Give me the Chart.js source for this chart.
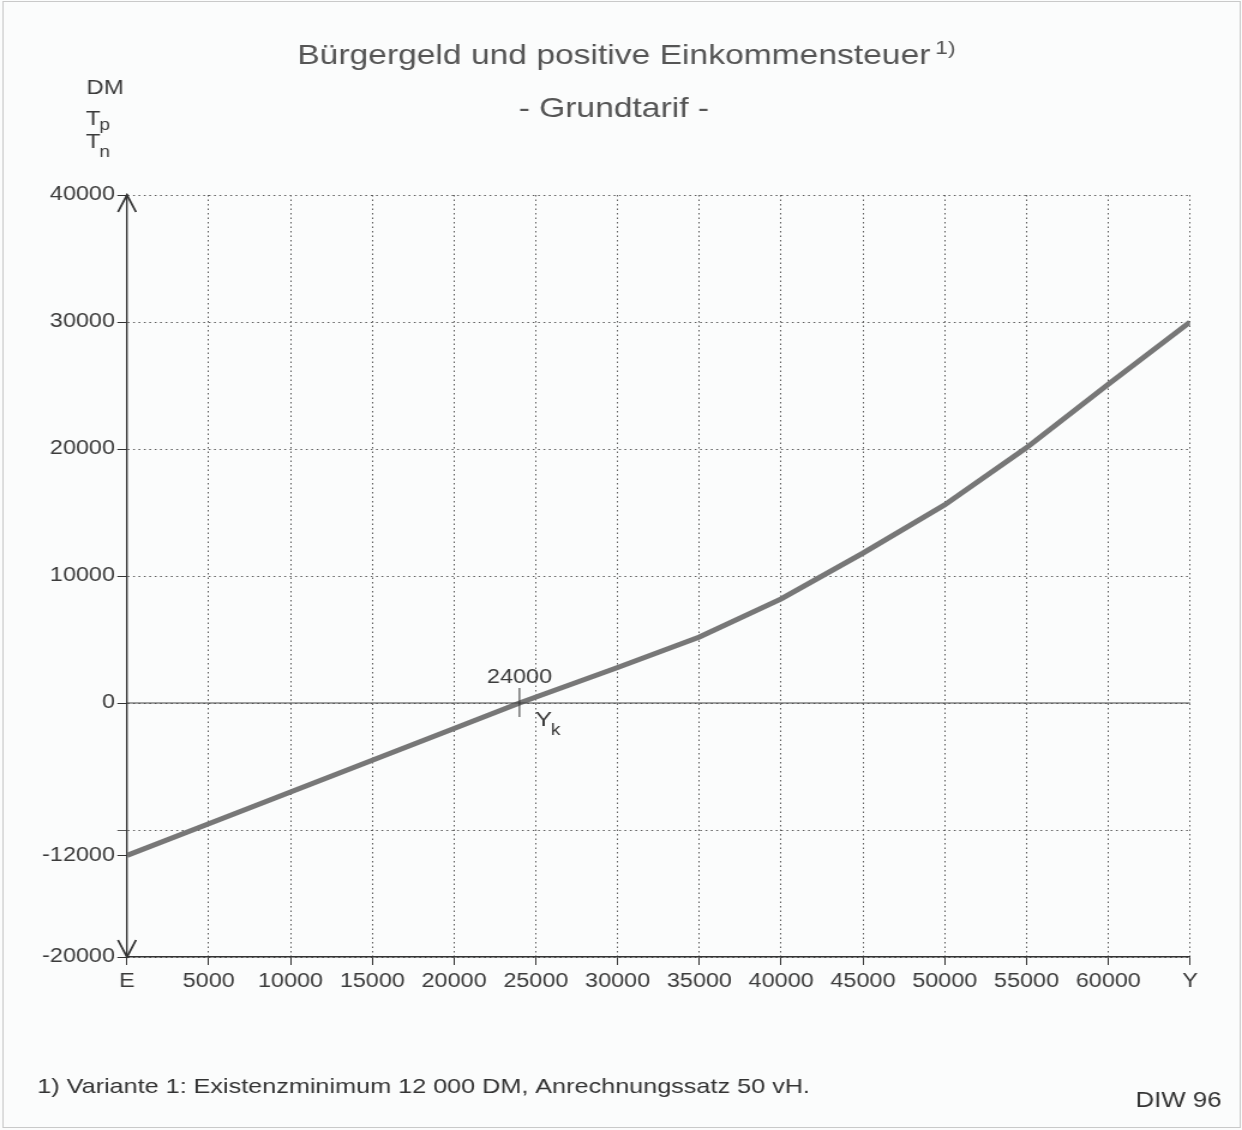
<!DOCTYPE html>
<html>
<head>
<meta charset="utf-8">
<title>Bürgergeld und positive Einkommensteuer</title>
<script src="https://cdn.jsdelivr.net/npm/chart.js"></script>
<style>
    html, body { margin: 0; padding: 0; background: #fbfcfc; overflow: hidden; }
    /* the printed figure is a bit stretched sideways, so draw narrower and widen */
    .wrap { width: 1035px; height: 1130px; transform: scaleX(1.2); transform-origin: 0 0; }
</style>
</head>
<body>
<div class="wrap"><canvas id="chart"></canvas></div>
<script>
    // income Y (DM) and tax T (positive Tp / negative Tn), Grundtarif
    const income = [0, 5000, 10000, 15000, 20000, 24000, 30000, 35000, 40000, 45000, 50000, 55000, 60000, 65000];
    const tax = [-12000, -9500, -7000, -4500, -2000, 0, 2800, 5200, 8200, 11800, 15600, 20100, 25100, 30000];

    const yTicks = [-20000, -12000, -10000, 0, 10000, 20000, 30000, 40000];
    const yHidden = [-10000];           // gridline only, no label
    const xMin = 0, xMax = 65000, xStep = 5000;
    const xEndLabels = { 0: 'E', 65000: 'Y' };
    const breakEven = 24000;            // Y_k

    const FONT = '"Liberation Sans", Arial, sans-serif';
    const INK = '#3b3b3b';
    const GRID = '#5a5a5a';

    const figureText = {
        id: 'figureText',
        afterDraw(chart) {
            const ctx = chart.ctx;
            const xs = chart.scales.x, ys = chart.scales.y;
            ctx.save();

            // solid zero line
            const y0 = ys.getPixelForValue(0);
            ctx.strokeStyle = '#444';
            ctx.lineWidth = 1.2;
            ctx.beginPath();
            ctx.moveTo(xs.left, y0);
            ctx.lineTo(xs.right, y0);
            ctx.stroke();

            // arrows on the vertical axis
            const ax = xs.getPixelForValue(xMin);
            const yt = ys.getPixelForValue(40000), yb = ys.getPixelForValue(-20000);
            ctx.strokeStyle = '#333';
            ctx.lineWidth = 1.8;
            ctx.beginPath();
            ctx.moveTo(ax - 7.5, yt + 17); ctx.lineTo(ax, yt); ctx.lineTo(ax + 7.5, yt + 17);
            ctx.moveTo(ax - 7.5, yb - 17); ctx.lineTo(ax, yb); ctx.lineTo(ax + 7.5, yb - 17);
            ctx.stroke();

            // Y_k marker
            const xk = xs.getPixelForValue(breakEven);
            ctx.lineWidth = 1;
            ctx.beginPath();
            ctx.moveTo(xk, y0 - 15); ctx.lineTo(xk, y0 + 14);
            ctx.stroke();
            ctx.fillStyle = INK;
            ctx.textBaseline = 'alphabetic';
            ctx.textAlign = 'center';
            ctx.font = '19.5px ' + FONT;
            ctx.fillText(String(breakEven), xk, y0 - 20);
            ctx.textAlign = 'left';
            ctx.font = '21px ' + FONT;
            ctx.fillText('Y', xk + 13, y0 + 23);
            const wY = ctx.measureText('Y').width;
            ctx.font = '16px ' + FONT;
            ctx.fillText('k', xk + 13 + wY - 1, y0 + 32);

            // axis unit labels
            ctx.fillStyle = INK;
            ctx.font = '20px ' + FONT;
            ctx.fillText('DM', 72, 94);
            ctx.fillText('T', 71.5, 125);
            ctx.fillText('T', 71.5, 148);
            const wT = ctx.measureText('T').width;
            ctx.font = '16px ' + FONT;
            ctx.fillText('p', 71.5 + wT - 1, 130);
            ctx.fillText('n', 71.5 + wT - 1, 157);

            // title
            ctx.fillStyle = '#555';
            ctx.font = '28px ' + FONT;
            ctx.textAlign = 'center';
            const title = 'Bürgergeld und positive Einkommensteuer';
            const cx = 511.5;
            ctx.fillText(title, cx, 64);
            const wTitle = ctx.measureText(title).width;
            ctx.fillText('- Grundtarif -', cx, 117);
            ctx.textAlign = 'left';
            ctx.font = '19px ' + FONT;
            ctx.fillText('1)', cx + wTitle / 2 + 4, 54);

            // footnote and source
            ctx.fillStyle = '#333';
            ctx.font = '21px ' + FONT;
            ctx.fillText('1) Variante 1: Existenzminimum 12 000 DM, Anrechnungssatz 50 vH.', 31, 1093);
            ctx.textAlign = 'right';
            ctx.font = '21.5px ' + FONT;
            ctx.fillText('DIW 96', 1018, 1107);

            // faint frame of the scanned page
            ctx.strokeStyle = '#c9c9c9';
            ctx.lineWidth = 1;
            ctx.strokeRect(2.5, 1.5, chart.width - 4, chart.height - 4);
            ctx.restore();
        }
    };

    new Chart(document.getElementById('chart'), {
        type: 'scatter',
        data: {
            datasets: [{
                data: income.map((v, i) => ({ x: v, y: tax[i] })),
                showLine: true,
                borderColor: '#777777',
                borderWidth: 5,
                pointRadius: 0,
                tension: 0
            }]
        },
        options: {
            responsive: true,
            maintainAspectRatio: false,
            animation: false,
            layout: { padding: { left: 0, right: 43.3, top: 195, bottom: 133 } },
            plugins: { legend: { display: false }, tooltip: { enabled: false } },
            scales: {
                x: {
                    type: 'linear',
                    min: xMin,
                    max: xMax,
                    afterFit: s => { s.height = 40; },
                    ticks: {
                        stepSize: xStep,
                        autoSkip: false,
                        maxRotation: 0,
                        padding: 5,
                        color: INK,
                        font: { family: FONT, size: 19.5 },
                        callback: v => xEndLabels[v] !== undefined ? xEndLabels[v] : String(v)
                    },
                    grid: { color: GRID, lineWidth: 1, tickLength: 8, tickColor: '#333', tickBorderDash: [] },
                    border: { display: true, color: '#333', width: 1.4, dash: [1.5, 3] }
                },
                y: {
                    min: -20000,
                    max: 40000,
                    afterFit: s => { s.width = 105.8; },
                    afterBuildTicks: s => { s.ticks = yTicks.map(v => ({ value: v })); },
                    ticks: {
                        padding: 2,
                        color: INK,
                        font: { family: FONT, size: 19.5 },
                        callback: v => yHidden.includes(v) ? '' : String(v)
                    },
                    grid: {
                        color: c => c.tick && c.tick.value === -12000 ? 'rgba(0,0,0,0)' : GRID,
                        lineWidth: 1,
                        tickLength: 8,
                        tickColor: c => c.tick && yHidden.includes(c.tick.value) ? GRID : '#333',
                        tickBorderDash: []
                    },
                    border: { display: true, color: '#333', width: 1.4, dash: [1.5, 3] }
                }
            }
        },
        plugins: [figureText]
    });
</script>
</body>
</html>
